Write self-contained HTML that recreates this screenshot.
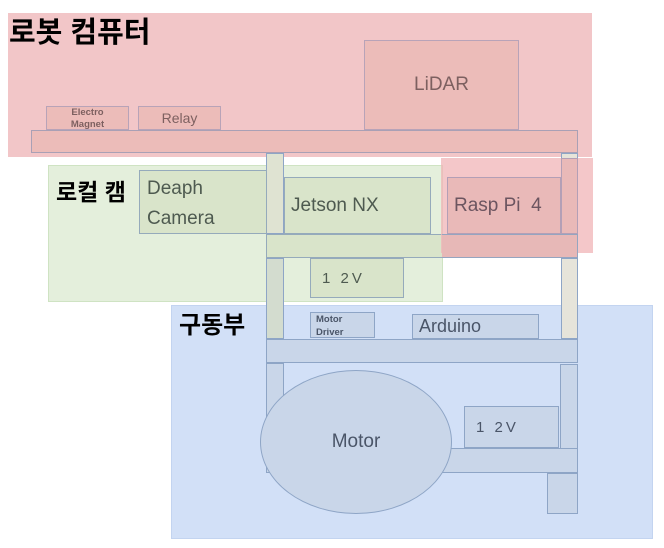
<!DOCTYPE html>
<html><head><meta charset="utf-8"><style>
body{margin:0;width:664px;height:548px;background:#fff;position:relative;overflow:hidden;font-family:"Liberation Sans","Noto Sans CJK KR",sans-serif}
div{position:absolute;box-sizing:border-box}
.t{display:flex;align-items:center;justify-content:center}
</style></head><body>
<!-- regions -->
<div style="left:8px;top:13px;width:584px;height:144px;background:#f2c6c8"></div>
<div style="left:48px;top:165px;width:395px;height:137px;background:#e4efdc;border:1px solid #cfe3c3"></div>
<div style="left:171px;top:305px;width:482px;height:234px;background:#d2e0f7;border:1px solid #c3d4f0"></div>

<!-- posts -->
<div style="left:266px;top:153px;width:18px;height:81px;background:#dfe3d2;border:1px solid #8ea5c6"></div>
<div style="left:561px;top:153px;width:17px;height:81px;background:#e6e4da;border:1px solid #8ea5c6"></div>
<div style="left:266px;top:258px;width:18px;height:81px;background:#d3dccf;border:1px solid #8ea5c6"></div>
<div style="left:561px;top:258px;width:17px;height:81px;background:#e6e4da;border:1px solid #8ea5c6"></div>
<div style="left:266px;top:363px;width:18px;height:110px;background:#c9d6e9;border:1px solid #8ea5c6"></div>
<div style="left:560px;top:364px;width:18px;height:88px;background:#c9d6e9;border:1px solid #8ea5c6"></div>
<div style="left:547px;top:473px;width:31px;height:41px;background:#c9d6e9;border:1px solid #8ea5c6"></div>

<!-- top -->
<div style="left:9px;top:15px;font-size:29px;font-weight:bold;color:#000;line-height:36px">로봇 컴퓨터</div>
<div class="t" style="left:364px;top:40px;width:155px;height:90px;background:#ecbcb9;border:1px solid #b8a3b8;color:#7d6060;font-size:19px">LiDAR</div>
<div style="left:46px;top:106px;width:83px;height:24px;background:#ecbcb9;border:1px solid #b8a3b8;color:#7d6060;font-size:9.5px;font-weight:bold;text-align:center;line-height:12px">Electro<br>Magnet</div>
<div class="t" style="left:138px;top:106px;width:83px;height:24px;background:#ecbcb9;border:1px solid #b8a3b8;color:#7d6060;font-size:14px">Relay</div>
<div style="left:31px;top:130px;width:547px;height:23px;background:#ecbcb9;border:1px solid #a9a0b5"></div>

<!-- local cam -->
<div style="left:56px;top:177px;font-size:23px;font-weight:bold;color:#000;line-height:30px">로컬 캠</div>
<div style="left:139px;top:170px;width:128px;height:64px;background:#d9e4ca;border:1px solid #95aabb;color:#4e5a50;font-size:19px;padding:3px 0 0 7px;line-height:30px">Deaph<br>Camera</div>
<div class="t" style="left:284px;top:177px;width:147px;height:57px;background:#d9e4ca;border:1px solid #95aabb;color:#4e5a50;font-size:19px;justify-content:flex-start;padding-left:6px">Jetson NX</div>
<div style="left:266px;top:234px;width:176px;height:24px;background:#d9e4ca;border:1px solid #95aabb;border-right:none"></div>
<div class="t" style="left:310px;top:258px;width:94px;height:40px;background:#d9e4ca;border:1px solid #95aabb;color:#4e5a50;font-size:15px;justify-content:flex-start;padding-left:11px;letter-spacing:3px">1 2V</div>

<!-- rasp overlay -->
<div style="left:441px;top:158px;width:152px;height:95px;background:rgba(240,180,183,0.75)"></div>
<div style="left:442px;top:234px;width:136px;height:24px;background:#e7b8b7;border:1px solid #95a5c0;border-left:none"></div>
<div class="t" style="left:447px;top:177px;width:114px;height:57px;background:#e9b9b8;border:1px solid #b39fb6;color:#6c5560;font-size:19px;justify-content:flex-start;padding-left:6px">Rasp Pi &nbsp;4</div>
<div style="left:561px;top:158px;width:17px;height:76px;background:#e9b9b8;border:1px solid #b39fb6"></div>

<!-- drive -->
<div style="left:179px;top:311px;font-size:24px;font-weight:bold;color:#000;line-height:30px">구동부</div>
<div style="left:310px;top:312px;width:65px;height:26px;background:#c9d6e9;border:1px solid #8ea5c6;color:#4a5568;font-size:9.5px;font-weight:bold;padding-left:5px;line-height:13px">Motor<br>Driver</div>
<div class="t" style="left:412px;top:314px;width:127px;height:25px;background:#c9d6e9;border:1px solid #8ea5c6;color:#4a5568;font-size:18px;justify-content:flex-start;padding-left:6px">Arduino</div>
<div style="left:266px;top:339px;width:312px;height:24px;background:#c9d6e9;border:1px solid #8ea5c6"></div>
<div style="left:440px;top:448px;width:138px;height:25px;background:#c9d6e9;border:1px solid #8ea5c6"></div>
<div class="t" style="left:464px;top:406px;width:95px;height:42px;background:#c9d6e9;border:1px solid #8ea5c6;color:#4a5568;font-size:15px;justify-content:flex-start;padding-left:11px;letter-spacing:3px">1 2V</div>
<div class="t" style="left:260px;top:370px;width:192px;height:144px;border-radius:50%;background:#c9d6e9;border:1px solid #8ea5c6;color:#4a5568;font-size:19px">Motor</div>
</body></html>
